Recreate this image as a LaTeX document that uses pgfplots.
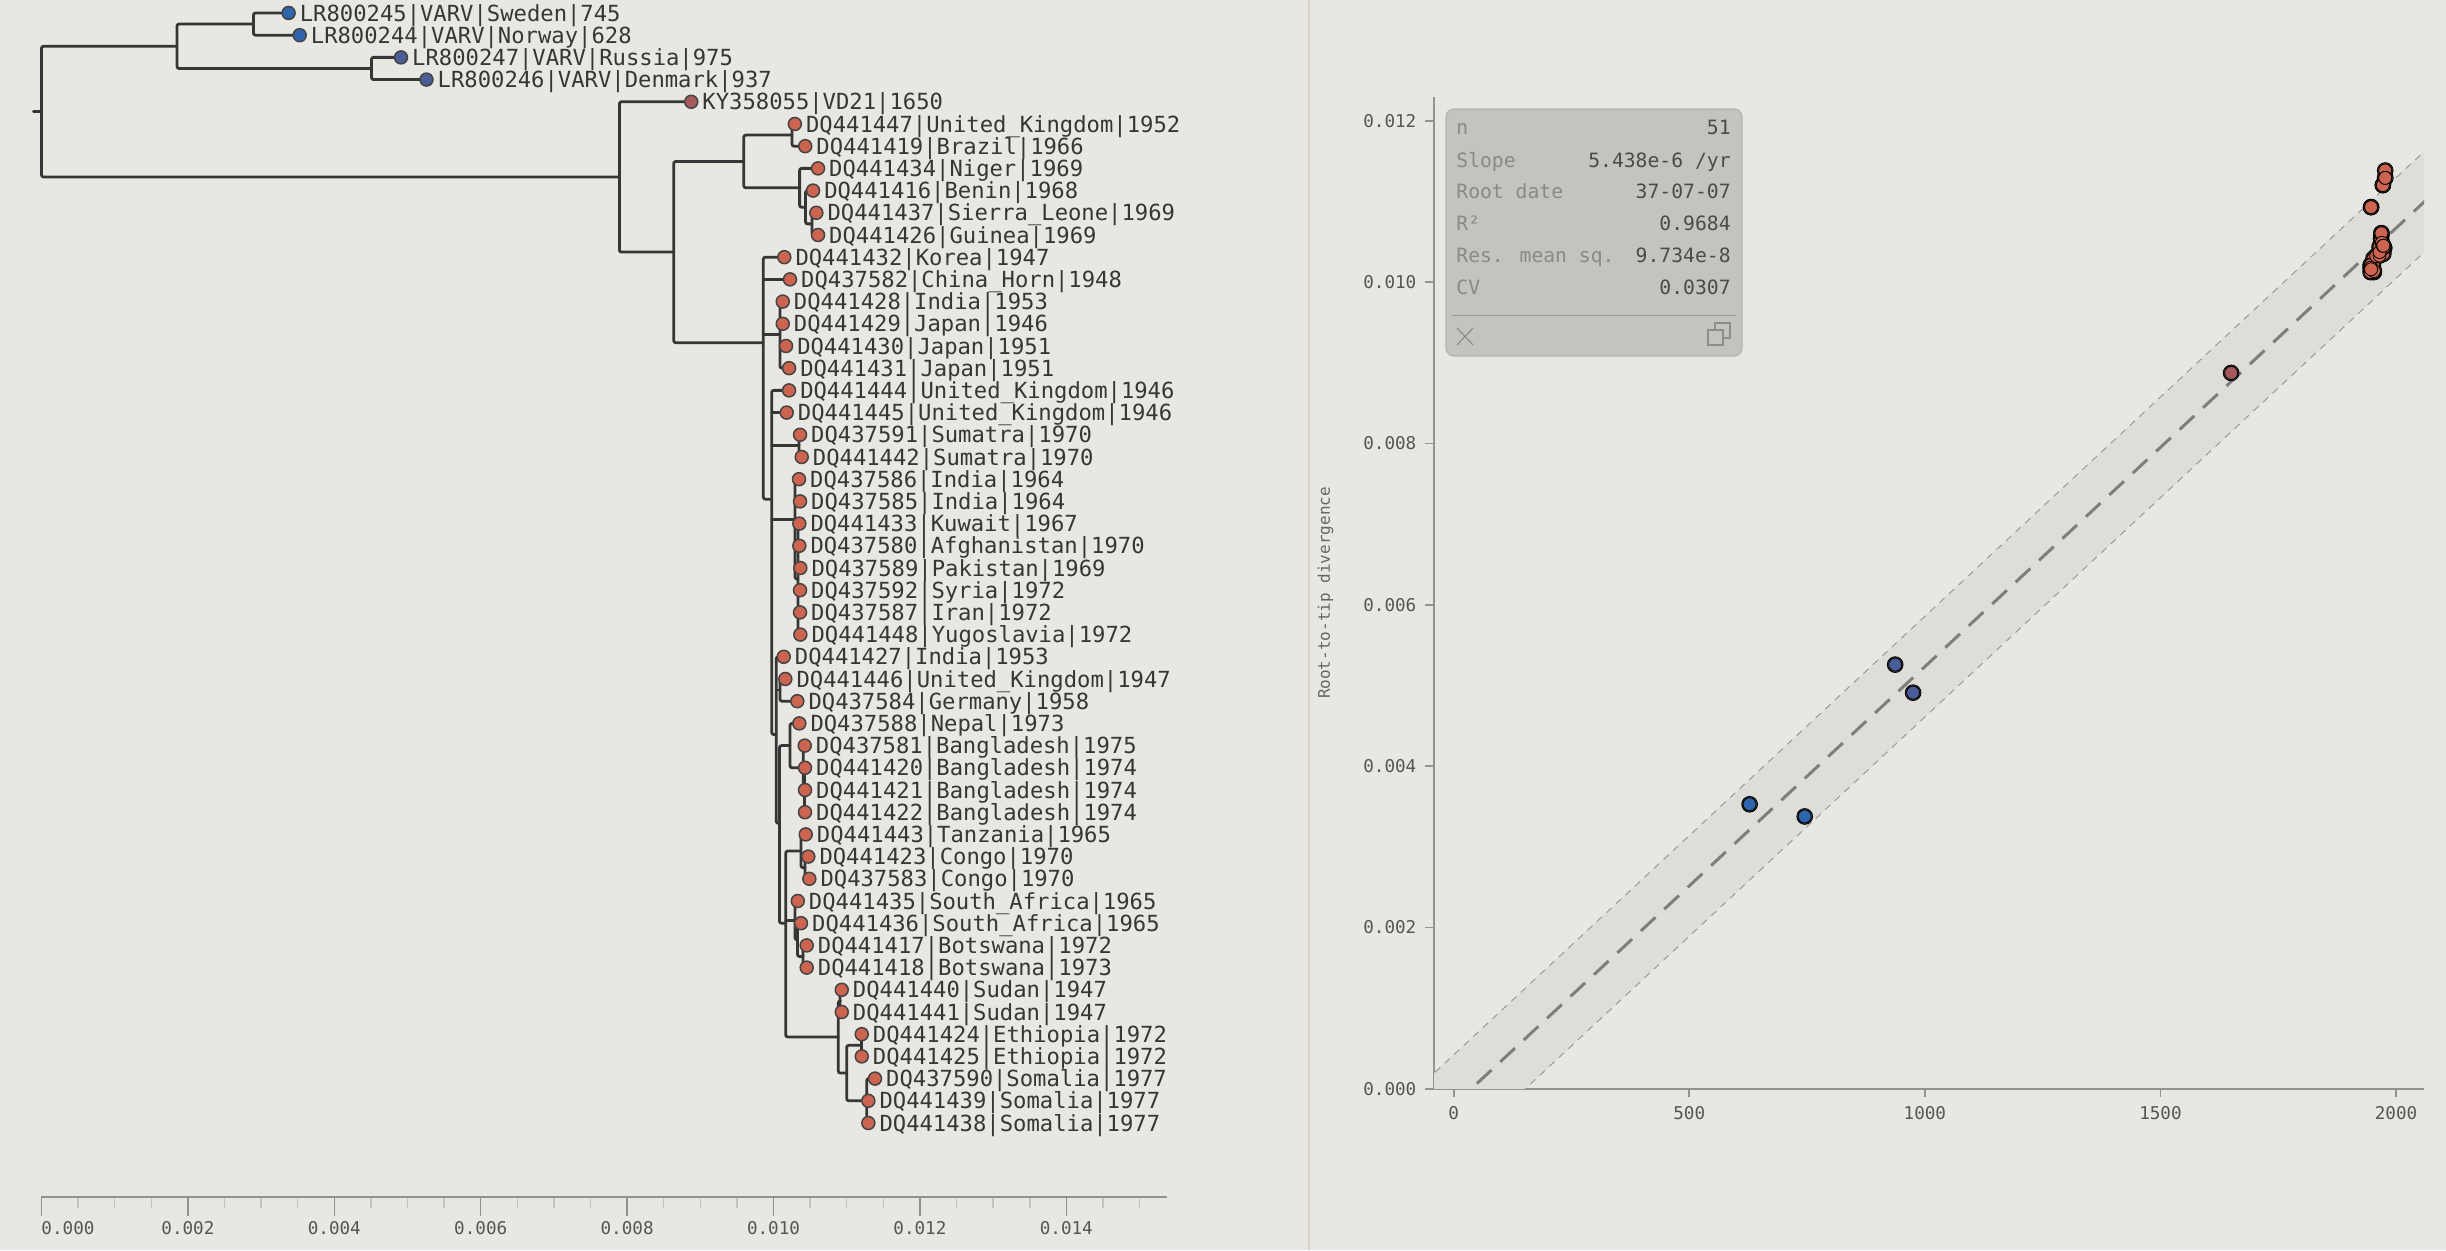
\documentclass[border=0pt]{standalone}
\usepackage{pgfplots}
\pgfplotsset{compat=1.18}
\usepackage{pgfplotstable}
\usepackage{fontspec}
\setmainfont{DejaVu Sans}
\newfontfamily\mono{DejaVu Sans Mono}

\definecolor{paper}{HTML}{E8E7E2}
\definecolor{rulecol}{HTML}{D7D4CB}
\definecolor{branch}{HTML}{363636}
\definecolor{tipedge}{HTML}{444444}
\definecolor{blueA}{HTML}{2F65AC}
\definecolor{blueB}{HTML}{4A5D97}
\definecolor{plum}{HTML}{A5595B}
\definecolor{coral}{HTML}{CD6450}
\definecolor{axisgray}{HTML}{929292}
\definecolor{ticktext}{HTML}{555555}
\definecolor{labeltext}{HTML}{363636}
\definecolor{ylabtext}{HTML}{666666}
\definecolor{band}{HTML}{DEDDD8}
\definecolor{bandedge}{HTML}{9A9A9A}
\definecolor{fitline}{HTML}{7E7E7E}
\definecolor{boxfill}{HTML}{C4C3BE}
\definecolor{boxedge}{HTML}{B4B3AE}
\definecolor{keytext}{HTML}{8A8986}
\definecolor{valtext}{HTML}{4B4B4B}
\definecolor{icon}{HTML}{8E8D89}

\newcommand\tipfont{\mono\fontsize{11.1}{13}\selectfont}
\newcommand\tickfont{\mono\fontsize{8.8}{10}\selectfont}
\newcommand\ylabfont{\mono\fontsize{8}{10}\selectfont}
\newcommand\boxfont{\mono\fontsize{9.85}{12}\selectfont}

% tips: label, sampling year, root-to-tip divergence, row (top = 0), colour group
\pgfplotstableread{
label date div pos grp
LR800245|VARV|Sweden|745 745 0.003376 0 b1
LR800244|VARV|Norway|628 628 0.003527 -1 b1
LR800247|VARV|Russia|975 975 0.004911 -2 b2
LR800246|VARV|Denmark|937 937 0.005259 -3 b2
KY358055|VD21|1650 1650 0.008876 -4 k
DQ441447|United\_Kingdom|1952 1952 0.010291 -5 c
DQ441419|Brazil|1966 1966 0.010433 -6 c
DQ441434|Niger|1969 1969 0.010608 -7 c
DQ441416|Benin|1968 1968 0.010540 -8 c
DQ441437|Sierra\_Leone|1969 1969 0.010585 -9 c
DQ441426|Guinea|1969 1969 0.010608 -10 c
DQ441432|Korea|1947 1947 0.010147 -11 c
DQ437582|China\_Horn|1948 1948 0.010225 -12 c
DQ441428|India|1953 1953 0.010126 -13 c
DQ441429|Japan|1946 1946 0.010126 -14 c
DQ441430|Japan|1951 1951 0.010171 -15 c
DQ441431|Japan|1951 1951 0.010212 -16 c
DQ441444|United\_Kingdom|1946 1946 0.010212 -17 c
DQ441445|United\_Kingdom|1946 1946 0.010180 -18 c
DQ437591|Sumatra|1970 1970 0.010362 -19 c
DQ441442|Sumatra|1970 1970 0.010385 -20 c
DQ437586|India|1964 1964 0.010348 -21 c
DQ437585|India|1964 1964 0.010362 -22 c
DQ441433|Kuwait|1967 1967 0.010352 -23 c
DQ437580|Afghanistan|1970 1970 0.010352 -24 c
DQ437589|Pakistan|1969 1969 0.010366 -25 c
DQ437592|Syria|1972 1972 0.010362 -26 c
DQ437587|Iran|1972 1972 0.010362 -27 c
DQ441448|Yugoslavia|1972 1972 0.010366 -28 c
DQ441427|India|1953 1953 0.010139 -29 c
DQ441446|United\_Kingdom|1947 1947 0.010161 -30 c
DQ437584|Germany|1958 1958 0.010325 -31 c
DQ437588|Nepal|1973 1973 0.010352 -32 c
DQ437581|Bangladesh|1975 1975 0.010426 -33 c
DQ441420|Bangladesh|1974 1974 0.010430 -34 c
DQ441421|Bangladesh|1974 1974 0.010430 -35 c
DQ441422|Bangladesh|1974 1974 0.010430 -36 c
DQ441443|Tanzania|1965 1965 0.010440 -37 c
DQ441423|Congo|1970 1970 0.010475 -38 c
DQ437583|Congo|1970 1970 0.010489 -39 c
DQ441435|South\_Africa|1965 1965 0.010331 -40 c
DQ441436|South\_Africa|1965 1965 0.010375 -41 c
DQ441417|Botswana|1972 1972 0.010453 -42 c
DQ441418|Botswana|1973 1973 0.010453 -43 c
DQ441440|Sudan|1947 1947 0.010932 -44 c
DQ441441|Sudan|1947 1947 0.010932 -45 c
DQ441424|Ethiopia|1972 1972 0.011205 -46 c
DQ441425|Ethiopia|1972 1972 0.011205 -47 c
DQ437590|Somalia|1977 1977 0.011386 -48 c
DQ441439|Somalia|1977 1977 0.011295 -49 c
DQ441438|Somalia|1977 1977 0.011295 -50 c
}\tips

\pgfplotsset{
  treeline/.style={draw=branch, line width=1.4pt, rounded corners=1pt,
    mark=none, line join=round, line cap=round},
}
% a clade drawn as a bracket: node x, first child (x,y), last child (x,y)
\newcommand\treeclade[5]{\addplot[treeline] coordinates {(#2,#3) (#1,#3) (#1,#5) (#4,#5)};}
% a further child hanging from a node: node x, child x, child y
\newcommand\treestem[3]{\addplot[treeline] coordinates {(#1,#3) (#2,#3)};}

\begin{document}
\begin{tikzpicture}
\fill[paper] (0,0) rectangle (1223pt,625pt);
\useasboundingbox (0,0) rectangle (1223pt,625pt);
\draw[rulecol, line width=1pt] (654.5pt,0pt) -- (654.5pt,625pt);

% ---------------- tree ----------------
\begin{axis}[
  at={(20.75pt,26.65pt)}, anchor=south west,
  scale only axis, width=562.75pt, height=598.35pt,
  xmin=0, xmax=0.015375, ymin=-53.32, ymax=0.585,
  clip=false,
  axis x line*=bottom, axis y line=none,
  x axis line style={draw=axisgray, line width=1pt, -},
  xtick={0,0.002,0.004,0.006,0.008,0.010,0.012,0.014},
  xticklabels={\rlap{0.000},0.002,0.004,0.006,0.008,0.010,0.012,0.014},
  minor xtick={0.0005,0.001,0.0015,0.0025,0.003,0.0035,0.0045,0.005,0.0055,
    0.0065,0.007,0.0075,0.0085,0.009,0.0095,0.0105,0.011,0.0115,
    0.0125,0.013,0.0135,0.0145,0.015},
  tick align=outside,
  major tick length=9.5pt, minor tick length=5.5pt,
  every major tick/.append style={draw=axisgray, line width=0.75pt},
  every minor tick/.append style={draw=axisgray!55, line width=0.75pt},
  xticklabel style={font=\tickfont, text=ticktext, inner sep=0pt, anchor=north},
  xticklabel shift=2.65pt,
  scaled x ticks=false,
]
% root stub and backbone
\treestem{-0.00011}{0}{-4.44}
\treeclade{0}{0.0018511}{-1.5}{0.0078947}{-7.385}
% VARV (Scandinavia, Russia)
\treeclade{0.0018511}{0.0028961}{-0.5}{0.0045081}{-2.5}
\treeclade{0.0028961}{0.003376}{0}{0.003527}{-1}
\treeclade{0.0045081}{0.004911}{-2}{0.005259}{-3}
% VD21 and the 20th-century clade
\treeclade{0.0078947}{0.008876}{-4}{0.0086365}{-10.77}
\treeclade{0.0086365}{0.0095941}{-6.6875}{0.0098605}{-14.85}
% West Africa / Brazil
\treeclade{0.0095941}{0.0102526}{-5.5}{0.0103564}{-7.875}
\treeclade{0.0102526}{0.010291}{-5}{0.010433}{-6}
\treeclade{0.0103564}{0.010608}{-7}{0.0104370}{-8.75}
\treeclade{0.0104370}{0.010540}{-8}{0.0105258}{-9.5}
\treeclade{0.0105258}{0.010585}{-9}{0.010608}{-10}
% Asia / Africa major
\treeclade{0.0098605}{0.010147}{-11}{0.0099752}{-21.9}
\treestem{0.0098605}{0.010225}{-12}
\treestem{0.0098605}{0.0100886}{-14.5}
\treeclade{0.0100886}{0.010126}{-13}{0.010212}{-16}
\treestem{0.0100886}{0.010126}{-14}
\treestem{0.0100886}{0.010171}{-15}
\treeclade{0.0099752}{0.010212}{-17}{0.0100367}{-32.5}
\treestem{0.0099752}{0.010180}{-18}
\treestem{0.0099752}{0.0103482}{-19.5}
\treestem{0.0099752}{0.0102936}{-22.833}
\treeclade{0.0103482}{0.010362}{-19}{0.010385}{-20}
\treeclade{0.0102936}{0.010348}{-21}{0.0103346}{-25.5}
\treestem{0.0102936}{0.010362}{-22}
\treeclade{0.0103346}{0.010352}{-23}{0.010366}{-28}
\treestem{0.0103346}{0.010352}{-24}
\treestem{0.0103346}{0.010366}{-25}
\treestem{0.0103346}{0.010362}{-26}
\treestem{0.0103346}{0.010362}{-27}
\treeclade{0.0100367}{0.010139}{-29}{0.0100818}{-36.5}
\treestem{0.0100367}{0.0100886}{-30.5}
\treeclade{0.0100886}{0.010161}{-30}{0.010325}{-31}
\treeclade{0.0100818}{0.0102253}{-33}{0.0101666}{-41}
\treeclade{0.0102253}{0.010352}{-32}{0.0104070}{-34}
\treeclade{0.0104070}{0.010426}{-33}{0.0104233}{-35}
\treeclade{0.0104233}{0.010430}{-34}{0.010430}{-36}
\treestem{0.0104233}{0.010430}{-35}
\treeclade{0.0101666}{0.0103755}{-37.75}{0.0108851}{-46.125}
\treestem{0.0101666}{0.0102936}{-40.875}
\treeclade{0.0103755}{0.010440}{-37}{0.0104302}{-38.5}
\treeclade{0.0104302}{0.010475}{-38}{0.010489}{-39}
\treeclade{0.0102936}{0.010331}{-40}{0.0103277}{-41.75}
\treeclade{0.0103277}{0.010375}{-41}{0.0104029}{-42.5}
\treeclade{0.0104029}{0.010453}{-42}{0.010453}{-43}
% Horn of Africa
\treeclade{0.0108851}{0.0109083}{-44.5}{0.0110000}{-47.75}
\treeclade{0.0109083}{0.010932}{-44}{0.010932}{-45}
\treeclade{0.0110000}{0.0112020}{-46.5}{0.0112731}{-49}
\treeclade{0.0112020}{0.011205}{-46}{0.011205}{-47}
\treeclade{0.0112731}{0.011386}{-48}{0.011295}{-50}
\treestem{0.0112731}{0.011295}{-49}

% tips
\addplot[only marks, scatter, scatter src=explicit symbolic, mark=*, mark size=3.25pt,
  scatter/classes={
    b1={mark=*, draw=tipedge, fill=blueA, line width=0.75pt},
    b2={mark=*, draw=tipedge, fill=blueB, line width=0.75pt},
    k={mark=*, draw=tipedge, fill=plum, line width=0.75pt},
    c={mark=*, draw=tipedge, fill=coral, line width=0.75pt}}]
  table[x=div, y=pos, meta=grp] {\tips};
% tip labels
\addplot[draw=none, mark=none, nodes near coords, point meta=explicit symbolic,
  nodes near coords style={anchor=base west, xshift=5.4pt, yshift=-4.05pt,
    inner sep=0pt, font=\tipfont, text=labeltext}]
  table[x=div, y=pos, meta=label] {\tips};
\end{axis}

% ---------------- root-to-tip regression ----------------
\begin{axis}[
  at={(717pt,80.65pt)}, anchor=south west,
  scale only axis, width=495pt, height=495.7pt,
  xmin=-41.8, xmax=2059.4, ymin=0, ymax=0.012294,
  axis x line*=bottom, axis y line*=left,
  axis line style={draw=axisgray, line width=0.8pt, -},
  tick align=outside, major tick length=4.3pt,
  every major tick/.append style={draw=axisgray, line width=0.8pt},
  xtick={0,500,1000,1500,2000}, xticklabels={0,500,1000,1500,2000},
  ytick={0,0.002,0.004,0.006,0.008,0.010,0.012},
  yticklabels={0.000,0.002,0.004,0.006,0.008,0.010,0.012},
  ticklabel style={font=\tickfont, text=ticktext, inner sep=0pt},
  xticklabel shift=4.5pt, yticklabel shift=4.35pt,
  scaled ticks=false,
  ylabel={Root-to-tip divergence},
  ylabel style={at={(axis description cs:-0.1095,0.5)}, anchor=center,
    font=\ylabfont, text=ylabtext, inner sep=0pt},
]
% two-sigma band around the fit (slope 5.438e-6 /yr, root 37.5)
\addplot[fill=band, draw=none] coordinates
  {(-100,-0.00012378) (2100,0.01183982) (2100,0.01059182) (-100,-0.00137178)};
\addplot[bandedge, line width=0.5pt, dash pattern=on 3.5pt off 3pt]
  coordinates {(-100,-0.00012378) (2100,0.01183982)};
\addplot[bandedge, line width=0.5pt, dash pattern=on 3.5pt off 3pt]
  coordinates {(-100,-0.00137178) (2100,0.01059182)};
\addplot[fitline, line width=1.5pt, dash pattern=on 10pt off 6pt]
  coordinates {(-100,-0.00074778) (2100,0.01121582)};
% points: outline pass, then fill pass
\addplot[only marks, mark=*, mark size=3.95pt,
  mark options={draw=none, fill=tipedge}]
  table[x=date, y=div] {\tips};
\addplot[only marks, scatter, scatter src=explicit symbolic, mark=*, mark size=3.25pt,
  scatter/classes={
    b1={mark=*, draw=none, fill=blueA},
    b2={mark=*, draw=none, fill=blueB},
    k={mark=*, draw=none, fill=plum},
    c={mark=*, draw=none, fill=coral}}]
  table[x=date, y=div, meta=grp] {\tips};
\end{axis}

% ---------------- regression summary ----------------
\draw[boxedge, fill=boxfill, rounded corners=4pt, line width=0.6pt]
  (723pt,447pt) rectangle (871pt,570.5pt);
\begin{scope}[every node/.style={inner sep=0pt, text height=7.2pt, text depth=0pt, font=\boxfont}]
\node[anchor=west, text=keytext] at (728pt,561.15pt) {n};
\node[anchor=west, text=keytext] at (728pt,545pt) {Slope};
\node[anchor=west, text=keytext] at (728pt,529.5pt) {Root date};
\node[anchor=west, text=keytext] at (728pt,513.35pt) {R²};
\node[anchor=west, text=keytext] at (728pt,497.5pt) {Res. mean sq.};
\node[anchor=west, text=keytext] at (728pt,481.35pt) {CV};
\node[anchor=east, text=valtext] at (865.5pt,561.15pt) {51};
\node[anchor=east, text=valtext] at (865.5pt,545pt) {5.438e-6 /yr};
\node[anchor=east, text=valtext] at (865.5pt,529.5pt) {37-07-07};
\node[anchor=east, text=valtext] at (865.5pt,513.35pt) {0.9684};
\node[anchor=east, text=valtext] at (865.5pt,497.5pt) {9.734e-8};
\node[anchor=east, text=valtext] at (865.5pt,481.35pt) {0.0307};
\end{scope}
\draw[boxedge!85!black, line width=0.75pt] (726pt,467.35pt) -- (868pt,467.35pt);
\draw[icon, line width=0.6pt] (728.5pt,452.5pt) -- (736.5pt,461pt)
  (728.5pt,461pt) -- (736.5pt,452.5pt);
\draw[icon, line width=0.6pt] (857.5pt,456pt) rectangle (865pt,463.5pt);
\draw[icon, fill=boxfill, line width=0.6pt] (854pt,452.5pt) rectangle (861.5pt,460pt);
\end{tikzpicture}
\end{document}
